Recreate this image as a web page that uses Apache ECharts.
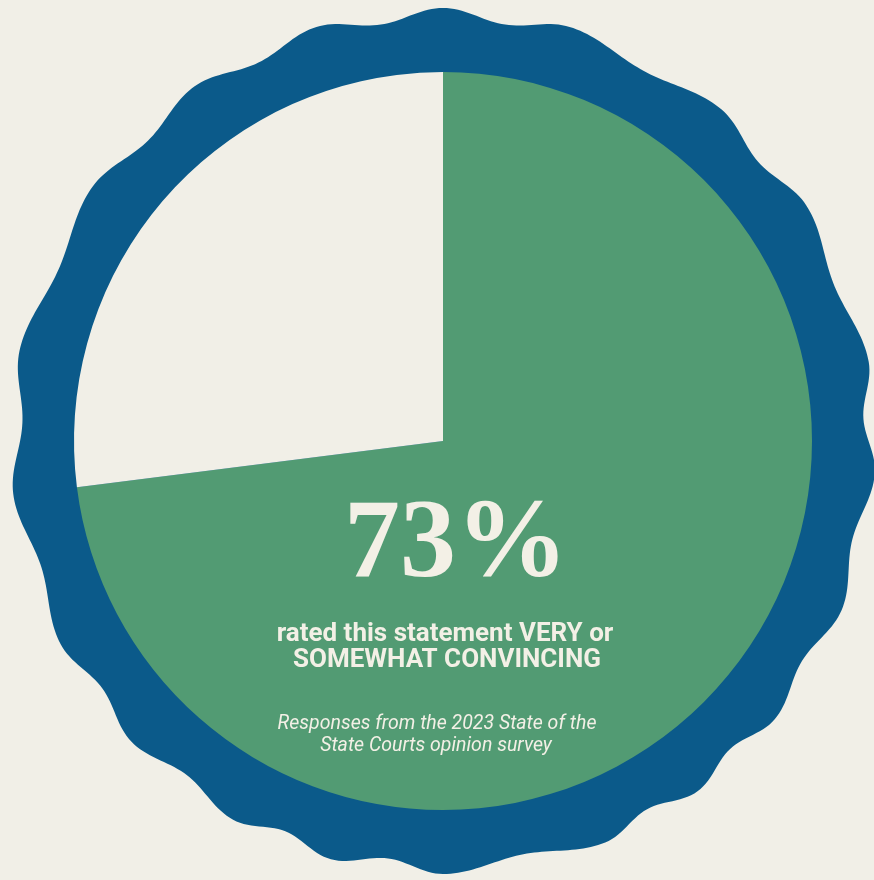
<!DOCTYPE html>
<html>
<head>
<meta charset="utf-8">
<script src="https://cdn.jsdelivr.net/npm/echarts@6/dist/echarts.min.js"></script>
<style>
html,body{margin:0;padding:0;background:#f1efe7;}
#chart{width:874px;height:880px;}
</style>
</head>
<body>
<div id="chart"></div>
<script>
// ---- data ----
const categories = ['Very or somewhat convincing', 'Other responses'];
const values = [73, 27];
const sliceColors = ['#529b73', '#f1efe7'];
const headline = '73%';
const subtitleLines = ['rated this statement VERY or', 'SOMEWHAT CONVINCING'];
const sourceLines = ['Responses from the 2023 State of the', 'State Courts opinion survey'];
// angles (deg, counter-clockwise from 3 o'clock) of the bumps on the wavy badge edge
const badgePeakAngles = [10.6, 33, 50, 73, 90, 107, 125, 144, 168, 187, 208, 224, 241, 255, 270, 292, 306, 320, 337, 355.7];

// ---- layout ----
const CX = 443, CY = 441, PIE_R = 369;
const BADGE_R = 427, BADGE_AMP = 6;

function badgePoints() {
  const peaks = badgePeakAngles.slice();
  const pts = [];
  for (let a = 0; a < 360; a += 0.5) {
    let i = peaks.length - 1;
    for (let k = 0; k < peaks.length; k++) { if (peaks[k] <= a) i = k; }
    let p0 = peaks[i];
    let p1 = i + 1 < peaks.length ? peaks[i + 1] : peaks[0] + 360;
    if (a < peaks[0]) { p0 = peaks[peaks.length - 1] - 360; p1 = peaks[0]; }
    const t = (a - p0) / (p1 - p0);
    const r = BADGE_R + BADGE_AMP * Math.cos(2 * Math.PI * t);
    const rad = a * Math.PI / 180;
    pts.push([CX + r * Math.cos(rad), CY - r * Math.sin(rad)]);
  }
  return pts;
}

const textFill = '#f3f0e6';
const chart = echarts.init(document.getElementById('chart'), null, {renderer: 'canvas'});
chart.setOption({
  backgroundColor: '#f1efe7',
  animation: false,
  graphic: [
    { type: 'polygon', z: 0, shape: { points: badgePoints() }, style: { fill: '#0b5a8a' } },
    { type: 'text', z: 100, style: { text: headline, x: 456, y: 547, fill: textFill,
        font: 'bold 112px "Liberation Serif", serif', textAlign: 'center', textVerticalAlign: 'middle' } },
    { type: 'text', z: 100, style: { text: subtitleLines[0], x: 445, y: 634, fill: textFill,
        font: 'bold 26px Roboto, "Liberation Sans", sans-serif', textAlign: 'center', textVerticalAlign: 'middle' } },
    { type: 'text', z: 100, style: { text: subtitleLines[1], x: 447, y: 660, fill: textFill,
        font: 'bold 26px Roboto, "Liberation Sans", sans-serif', textAlign: 'center', textVerticalAlign: 'middle' } },
    { type: 'text', z: 100, style: { text: sourceLines[0], x: 437, y: 724, fill: textFill,
        font: 'italic 19.5px Roboto, "Liberation Sans", sans-serif', textAlign: 'center', textVerticalAlign: 'middle' } },
    { type: 'text', z: 100, style: { text: sourceLines[1], x: 436, y: 746, fill: textFill,
        font: 'italic 19.5px Roboto, "Liberation Sans", sans-serif', textAlign: 'center', textVerticalAlign: 'middle' } }
  ],
  series: [{
    type: 'pie',
    z: 2,
    center: [CX, CY],
    radius: [0, PIE_R],
    startAngle: 90,
    clockwise: true,
    silent: true,
    label: { show: false },
    labelLine: { show: false },
    itemStyle: { borderWidth: 0 },
    data: categories.map((c, i) => ({ name: c, value: values[i], itemStyle: { color: sliceColors[i] } }))
  }]
});
</script>
</body>
</html>
